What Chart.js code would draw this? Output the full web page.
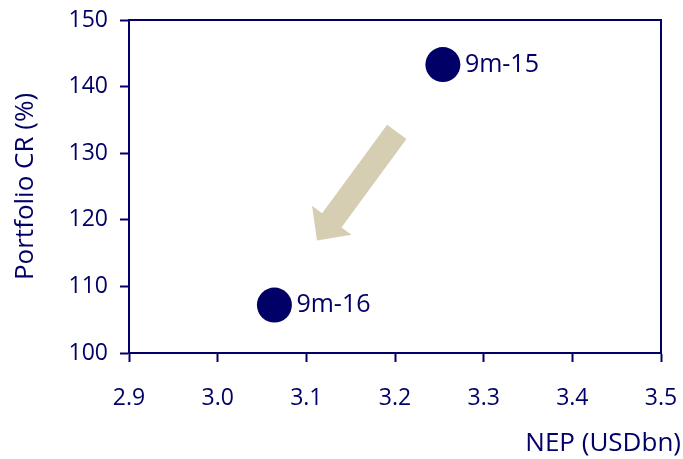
<!DOCTYPE html>
<html>
<head>
<meta charset="utf-8">
<script src="https://cdn.jsdelivr.net/npm/chart.js@4/dist/chart.umd.min.js"></script>
<style>
  html, body { margin: 0; padding: 0; background: #ffffff; }
  #wrap { width: 683px; height: 459px; }
</style>
</head>
<body>
<div id="wrap"><canvas id="c" width="683" height="459"></canvas></div>
<script>
// Period labels and their (NEP, portfolio combined ratio) coordinates
const periods = ['9m-15', '9m-16'];
const nepUsdBn = [3.254, 3.064];
const portfolioCR = [143.3, 107.2];

// Axis ticks
const xTickValues = [2.9, 3.0, 3.1, 3.2, 3.3, 3.4, 3.5];
const yTickValues = [100, 110, 120, 130, 140, 150];

// Trend arrow, in data units: tail -> head
const arrowFrom = [3.202, 133.2];
const arrowTo = [3.112, 116.9];

const NAVY = '#000066';
const SAND = '#d5ceb3';
const FONT = "'Open Sans', 'Noto Sans', sans-serif";

// Point labels to the right of each marker
const pointLabels = {
  id: 'pointLabels',
  afterDatasetsDraw(chart) {
    const ctx = chart.ctx;
    const meta = chart.getDatasetMeta(0);
    ctx.save();
    ctx.fillStyle = NAVY;
    ctx.font = `25px ${FONT}`;
    ctx.textAlign = 'left';
    ctx.textBaseline = 'middle';
    meta.data.forEach((pt, i) => {
      ctx.fillText(periods[i], pt.x + 22, pt.y);
    });
    ctx.restore();
  }
};

// Block arrow between two data positions
const trendArrow = {
  id: 'trendArrow',
  beforeDatasetsDraw(chart) {
    const xs = chart.scales.x, ys = chart.scales.y;
    const x0 = xs.getPixelForValue(arrowFrom[0]), y0 = ys.getPixelForValue(arrowFrom[1]);
    const x1 = xs.getPixelForValue(arrowTo[0]), y1 = ys.getPixelForValue(arrowTo[1]);
    const len = Math.hypot(x1 - x0, y1 - y0);
    const dx = (x1 - x0) / len, dy = (y1 - y0) / len;
    const nx = -dy, ny = dx;
    const shaftHalf = 12, headHalf = 24.5, headLen = 25;
    const bx = x1 - dx * headLen, by = y1 - dy * headLen;
    const ctx = chart.ctx;
    ctx.save();
    ctx.fillStyle = SAND;
    ctx.beginPath();
    ctx.moveTo(x0 + nx * shaftHalf, y0 + ny * shaftHalf);
    ctx.lineTo(bx + nx * shaftHalf, by + ny * shaftHalf);
    ctx.lineTo(bx + nx * headHalf, by + ny * headHalf);
    ctx.lineTo(x1, y1);
    ctx.lineTo(bx - nx * headHalf, by - ny * headHalf);
    ctx.lineTo(bx - nx * shaftHalf, by - ny * shaftHalf);
    ctx.lineTo(x0 - nx * shaftHalf, y0 - ny * shaftHalf);
    ctx.closePath();
    ctx.fill();
    ctx.restore();
  }
};

// Fixed axis sizes; edge label overflow is already covered by the margins
const fixSize = (prop, size) => (axis) => {
  axis[prop] = size;
  axis.paddingLeft = 0; axis.paddingRight = 0;
  axis.paddingTop = 0; axis.paddingBottom = 0;
};

const axisFrame = (pos) => ({
  type: 'linear',
  position: pos,
  display: true,
  ticks: { display: false },
  grid: { display: true, drawOnChartArea: false, drawTicks: false, tickLength: 0 },
  border: { display: true, color: NAVY, width: 2 }
});

new Chart(document.getElementById('c'), {
  type: 'scatter',
  data: {
    datasets: [{
      data: nepUsdBn.map((v, i) => ({ x: v, y: portfolioCR[i] })),
      backgroundColor: NAVY,
      borderColor: NAVY,
      borderWidth: 0,
      pointRadius: 17.5,
      pointHoverRadius: 17.5
    }]
  },
  options: {
    responsive: false,
    animation: false,
    events: [],
    layout: { autoPadding: false, padding: { top: 20, right: 2, bottom: 0, left: 0 } },
    plugins: {
      legend: { display: false },
      tooltip: { enabled: false },
      title: {
        display: true,
        position: 'bottom',
        align: 'end',
        text: 'NEP (USDbn)',
        color: NAVY,
        font: { family: FONT, size: 26, weight: 'normal' },
        padding: { top: 0, bottom: 0 }
      }
    },
    scales: {
      x: {
        type: 'linear',
        position: 'bottom',
        min: 2.9,
        max: 3.5,
        afterBuildTicks: (axis) => { axis.ticks = xTickValues.map(v => ({ value: v })); },
        afterFit: fixSize('height', 74.8),
        ticks: {
          color: NAVY,
          font: { family: FONT, size: 23 },
          padding: 23,
          maxRotation: 0,
          autoSkip: false,
          callback: (v) => Number(v).toFixed(1)
        },
        grid: { drawOnChartArea: false, drawTicks: true, tickLength: 9, tickWidth: 2, tickColor: NAVY },
        border: { display: true, color: NAVY, width: 2 }
      },
      y: {
        type: 'linear',
        position: 'left',
        min: 100,
        max: 150,
        afterBuildTicks: (axis) => { axis.ticks = yTickValues.map(v => ({ value: v })); },
        afterFit: fixSize('width', 129),
        ticks: {
          color: NAVY,
          font: { family: FONT, size: 23 },
          padding: 12,
          autoSkip: false
        },
        grid: { drawOnChartArea: false, drawTicks: true, tickLength: 9, tickWidth: 2, tickColor: NAVY },
        border: { display: true, color: NAVY, width: 2 },
        title: {
          display: true,
          text: 'Portfolio CR (%)',
          color: NAVY,
          font: { family: FONT, size: 26 },
          padding: { top: 10, bottom: 0 }
        }
      },
      x2: Object.assign(axisFrame('top'), { min: 2.9, max: 3.5, afterFit: fixSize('height', 0) }),
      y2: Object.assign(axisFrame('right'), { min: 100, max: 150, afterFit: fixSize('width', 20) })
    }
  },
  plugins: [trendArrow, pointLabels]
});
</script>
</body>
</html>
